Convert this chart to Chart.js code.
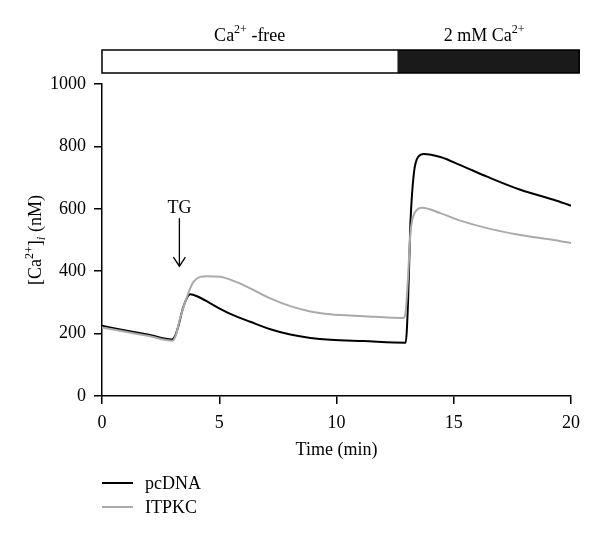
<!DOCTYPE html>
<html>
<head>
<meta charset="utf-8">
<script src="https://cdn.jsdelivr.net/npm/chart.js@4.4.0/dist/chart.umd.min.js"></script>
<style>
  body { margin: 0; background: #fff; }
  #wrap { width: 600px; height: 539px; }
</style>
</head>
<body>
<div id="wrap"><canvas id="myChart" width="600" height="539"></canvas></div>
<script>
// pcDNA trace (black)
const pcdnaTime = [0, 1, 2, 2.98, 3.1, 3.25, 3.47, 3.76, 4.1, 4.62, 5.1, 5.6, 6.32, 7.18, 8.03, 8.89, 9.74, 11.15, 12.95, 13.05, 13.15, 13.3, 13.5, 13.72, 14.43, 15.28, 16.42, 17.84, 19.26, 20];
const pcdnaCa   = [225, 210, 196, 181, 190, 222, 286, 326, 318, 297, 277, 259, 238, 214, 197, 186, 180, 176, 171, 300, 550, 714, 768, 776, 766, 740, 703, 661, 629, 610];

// ITPKC trace (grey)
const itpkcTime = [0, 1, 2, 3.0, 3.15, 3.33, 3.68, 3.9, 4.47, 5.04, 5.47, 5.9, 6.32, 7.18, 8.03, 8.89, 9.74, 11.15, 12.85, 12.95, 13.05, 13.15, 13.23, 13.45, 13.65, 14.43, 15.28, 16.42, 17.84, 19.26, 20];
const itpkcCa   = [220, 206, 192, 177, 195, 249, 330, 366, 384, 382, 373, 360, 345, 313, 288, 271, 262, 256, 250, 270, 380, 520, 564, 598, 603, 586, 562, 538, 516, 500, 490];

const xTicks = [0, 5, 10, 15, 20];
const yTicks = [0, 200, 400, 600, 800, 1000];

// condition bar on top (minutes)
const barFrom = [0, 12.6];
const barTo = [12.6, 20.35];

const FONT = '"Liberation Serif", "DejaVu Serif", serif';

function pts(xs, ys) {
  return xs.map((x, i) => ({ x: x, y: ys[i] }));
}

// draws text pieces with superscript / subscript, centred on x
function drawRich(ctx, parts, x, y) {
  let total = 0;
  parts.forEach(p => {
    ctx.font = (p.italic ? 'italic ' : '') + p.size + 'px ' + FONT;
    p.w = ctx.measureText(p.text).width;
    total += p.w;
  });
  let cx = x - total / 2;
  ctx.textAlign = 'left';
  ctx.textBaseline = 'alphabetic';
  parts.forEach(p => {
    ctx.font = (p.italic ? 'italic ' : '') + p.size + 'px ' + FONT;
    ctx.fillText(p.text, cx, y + (p.dy || 0));
    cx += p.w;
  });
}

const extras = {
  id: 'extras',
  afterDraw(chart) {
    const ctx = chart.ctx;
    const xs = chart.scales.x, ys = chart.scales.y;
    const top = chart.chartArea.top;
    ctx.save();
    ctx.fillStyle = '#000';
    ctx.strokeStyle = '#000';

    // condition bar
    const fills = ['#fff', '#1a1a1a'];
    for (let i = 0; i < barFrom.length; i++) {
      const a = xs.getPixelForValue(barFrom[i]);
      const b = xs.getPixelForValue(barTo[i]);
      ctx.fillStyle = fills[i];
      ctx.fillRect(a, top - 34, b - a, 23);
    }
    ctx.lineWidth = 1.5;
    ctx.strokeRect(xs.getPixelForValue(barFrom[0]), top - 34,
      xs.getPixelForValue(barTo[1]) - xs.getPixelForValue(barFrom[0]), 23);

    ctx.fillStyle = '#000';
    drawRich(ctx, [
      { text: 'Ca', size: 18 },
      { text: '2+', size: 12, dy: -8 },
      { text: ' -free', size: 18 }
    ], xs.getPixelForValue(6.3), top - 43);
    drawRich(ctx, [
      { text: '2 mM Ca', size: 18 },
      { text: '2+', size: 12, dy: -8 }
    ], xs.getPixelForValue(16.3), top - 43);

    // TG arrow
    const ax = xs.getPixelForValue(3.3);
    const a0 = ys.getPixelForValue(570), a1 = ys.getPixelForValue(416);
    ctx.lineWidth = 1.3;
    ctx.beginPath();
    ctx.moveTo(ax, a0); ctx.lineTo(ax, a1);
    ctx.moveTo(ax - 6, a1 - 9); ctx.lineTo(ax, a1); ctx.lineTo(ax + 6, a1 - 9);
    ctx.stroke();
    ctx.font = '18px ' + FONT;
    ctx.textAlign = 'center';
    ctx.textBaseline = 'alphabetic';
    ctx.fillText('TG', ax, a0 - 5);

    // y axis title
    ctx.save();
    ctx.translate(41, (chart.chartArea.top + chart.chartArea.bottom) / 2);
    ctx.rotate(-Math.PI / 2);
    drawRich(ctx, [
      { text: '[Ca', size: 18 },
      { text: '2+', size: 12, dy: -8 },
      { text: ']', size: 18 },
      { text: 'i', size: 13, dy: 4, italic: true },
      { text: ' (nM)', size: 18 }
    ], 0, 0);
    ctx.restore();

    // legend
    const names = ['pcDNA', 'ITPKC'];
    const cols = ['#000', '#aaa'];
    ctx.font = '18px ' + FONT;
    ctx.textAlign = 'left';
    ctx.textBaseline = 'middle';
    names.forEach((n, i) => {
      const ly = 483 + i * 24;
      ctx.strokeStyle = cols[i];
      ctx.lineWidth = 2;
      ctx.beginPath();
      ctx.moveTo(102, ly); ctx.lineTo(133, ly);
      ctx.stroke();
      ctx.fillStyle = '#000';
      ctx.fillText(n, 145, ly + 1);
    });
    ctx.restore();
  }
};

const ctx = document.getElementById('myChart');

new Chart(ctx, {
  type: 'line',
  data: {
    datasets: [{
      label: 'ITPKC',
      data: pts(itpkcTime, itpkcCa),
      borderColor: '#aaa',
      borderWidth: 2,
      pointRadius: 0,
      cubicInterpolationMode: 'monotone'
    }, {
      label: 'pcDNA',
      data: pts(pcdnaTime, pcdnaCa),
      borderColor: '#000',
      borderWidth: 2,
      pointRadius: 0,
      cubicInterpolationMode: 'monotone'
    }]
  },
  options: {
    responsive: false,
    animation: false,
    layout: { padding: { top: 84, right: 29, left: 0, bottom: 74 } },
    plugins: {
      legend: { display: false },
      tooltip: { enabled: false }
    },
    scales: {
      x: {
        type: 'linear',
        min: 0,
        max: 20,
        afterBuildTicks: s => { s.ticks = xTicks.map(v => ({ value: v })); },
        afterFit: s => { s.height = 69; },
        border: { display: true, color: '#000', width: 1.5 },
        grid: { drawOnChartArea: false, drawTicks: true, tickLength: 8, color: '#000', lineWidth: 1.5 },
        ticks: { color: '#000', font: { family: FONT, size: 18 }, padding: 8, maxRotation: 0 },
        title: { display: true, text: 'Time (min)', color: '#000', font: { family: FONT, size: 18 }, padding: { top: 4, bottom: 4 } }
      },
      y: {
        min: 0,
        max: 1000,
        afterBuildTicks: s => { s.ticks = yTicks.map(v => ({ value: v })); },
        afterFit: s => { s.width = 102; },
        border: { display: true, color: '#000', width: 1.5 },
        grid: { drawOnChartArea: false, drawTicks: true, tickLength: 8, color: '#000', lineWidth: 1.5 },
        ticks: { color: '#000', font: { family: FONT, size: 18 }, padding: 8, callback: v => String(v) }
      }
    }
  },
  plugins: [extras]
});
</script>
</body>
</html>
